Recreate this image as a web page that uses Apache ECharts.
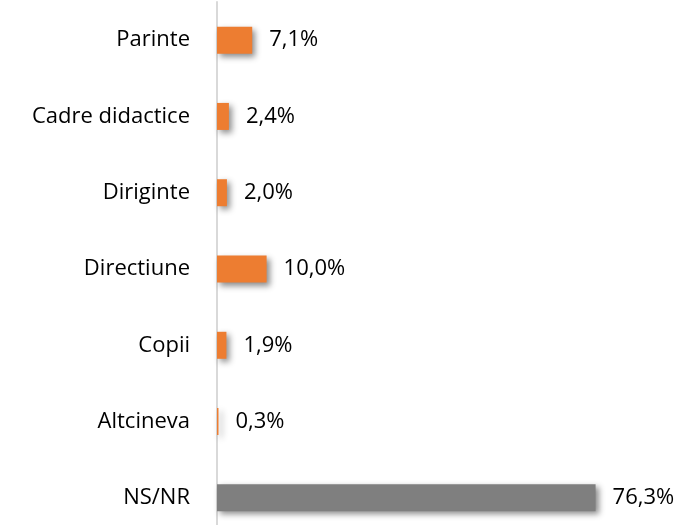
<!DOCTYPE html>
<html>
<head>
<meta charset="utf-8">
<script src="https://cdn.jsdelivr.net/npm/echarts@6/dist/echarts.min.js"></script>
<style>html,body{margin:0;padding:0;background:#fff;}#c{width:681px;height:525px;}</style>
</head>
<body>
<div id="c"></div>
<script>
const categories = ['Parinte', 'Cadre didactice', 'Diriginte', 'Directiune', 'Copii', 'Altcineva', 'NS/NR'];
const values = [7.1, 2.4, 2.0, 10.0, 1.9, 0.3, 76.3];
const barColors = ['#ED7D31', '#ED7D31', '#ED7D31', '#ED7D31', '#ED7D31', '#ED7D31', '#7F7F7F'];

const chart = echarts.init(document.getElementById('c'));
chart.setOption({
  animation: false,
  grid: { left: 217, width: 392, top: 2, height: 534, containLabel: false, outerBoundsMode: 'none' },
  xAxis: { type: 'value', min: 0, max: 79, show: false },
  yAxis: {
    type: 'category', data: categories, inverse: true,
    axisLine: { show: true, lineStyle: { color: '#D9D9D9', width: 2 } },
    axisTick: { show: false },
    axisLabel: { color: '#000', fontFamily: 'Open Sans', fontSize: 22, margin: 27 }
  },
  series: [{
    type: 'bar', barWidth: 27,
    data: values.map((v, i) => ({ value: v, itemStyle: { color: barColors[i] } })),
    itemStyle: { shadowColor: 'rgba(0,0,0,0.45)', shadowBlur: 6, shadowOffsetX: 3, shadowOffsetY: 3 },
    label: {
      show: true, position: 'right', distance: 17, color: '#000', fontFamily: 'Open Sans', fontSize: 22,
      formatter: p => p.value.toFixed(1).replace('.', ',') + '%'
    }
  }]
});
</script>
</body>
</html>
